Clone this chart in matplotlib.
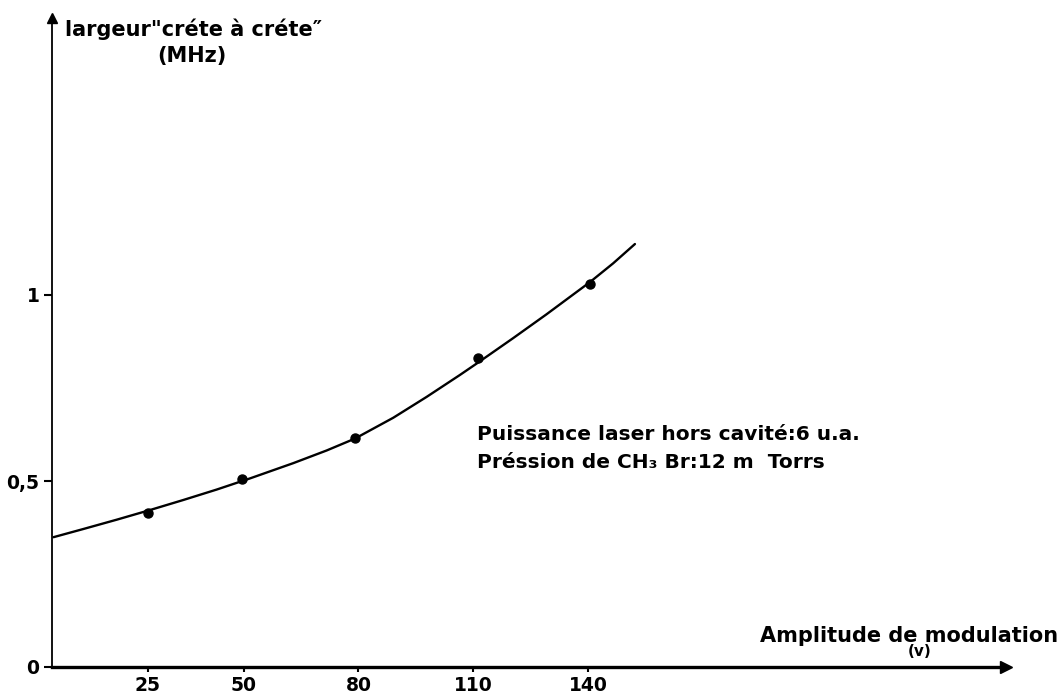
import numpy as np
import matplotlib.pyplot as plt

# Points mesurés
amplitude = [25, 49.7, 79.1, 111.1, 140.5]
largeur = [0.415, 0.505, 0.615, 0.831, 1.030]

# Courbe tracée à la main
courbe_x = [0.4, 8.2, 16.9, 25.6, 34.3, 43.0, 51.7, 63.0, 71.7, 79.1,
            89.1, 97.8, 106.5, 111.2, 120.4, 129.1, 140.5, 146.5, 152.2]
courbe_y = [0.349, 0.371, 0.396, 0.422, 0.449, 0.477, 0.507, 0.548, 0.582, 0.614,
            0.670, 0.726, 0.785, 0.818, 0.884, 0.948, 1.035, 1.085, 1.137]

xticks = [25, 50, 80, 110, 140]
xtick_labels = ['25', '50', '80', '110', '140']
yticks = [0, 0.5, 1]
ytick_labels = ['0', '0,5', '1']

W, H = 1064, 698
fig = plt.figure(figsize=(W / 100, H / 100), dpi=100)
ax = fig.add_axes([0, 0, 1, 1])

# echelle : x_px = 52 + 3.83*v ; y_px = 667 - 372*y
ax.set_xlim(-52 / 3.83, (W - 52) / 3.83)
ax.set_ylim((667 - H) / 372, 667 / 372)

ax.plot(courbe_x, courbe_y, color='black', lw=1.7, solid_capstyle='round',
        solid_joinstyle='round')
ax.plot(amplitude, largeur, 'o', color='black', ms=6.5)

# axes avec fleches
for s in ['top', 'right']:
    ax.spines[s].set_visible(False)
ax.spines['left'].set_position(('data', 0))
ax.spines['bottom'].set_position(('data', 0))
ax.spines['left'].set_bounds(0, 1.74)
ax.spines['bottom'].set_bounds(0, 248)
ax.spines['left'].set_linewidth(1.3)
ax.spines['bottom'].set_linewidth(2.4)
ax.plot(0, 1.745, '^', color='black', ms=7, clip_on=False)
ax.plot(249, 0, '>', color='black', ms=8.5, clip_on=False)

ax.set_xticks(xticks, xtick_labels)
ax.set_yticks(yticks, ytick_labels)
ax.tick_params(axis='x', direction='out', length=3.5, width=1.5, pad=3, labelsize=13.5)
ax.tick_params(axis='y', direction='out', length=6, width=1.5, pad=3, labelsize=13.5)
for lab in ax.get_xticklabels() + ax.get_yticklabels():
    lab.set_fontweight('bold')

bold = dict(fontweight='bold', color='black')
fig.text(65 / W, 1 - 29 / H, 'largeur"créte à créte″', fontsize=15,
         ha='left', va='center', **bold)
fig.text(192 / W, 1 - 56 / H, '(MHz)', fontsize=15, ha='center', va='center', **bold)
fig.text(1058 / W, 1 - 636 / H, 'Amplitude de modulation', fontsize=15,
         ha='right', va='center', **bold)
fig.text(920 / W, 1 - 652 / H, '(v)', fontsize=11, ha='center', va='center', **bold)
fig.text(477 / W, 1 - 435 / H, 'Puissance laser hors cavité:6 u.a.', fontsize=14.5,
         ha='left', va='center', **bold)
fig.text(477 / W, 1 - 463 / H, 'Préssion de CH₃ Br:12 m  Torrs', fontsize=14.5,
         ha='left', va='center', **bold)

fig.savefig('out.png', dpi=100)
